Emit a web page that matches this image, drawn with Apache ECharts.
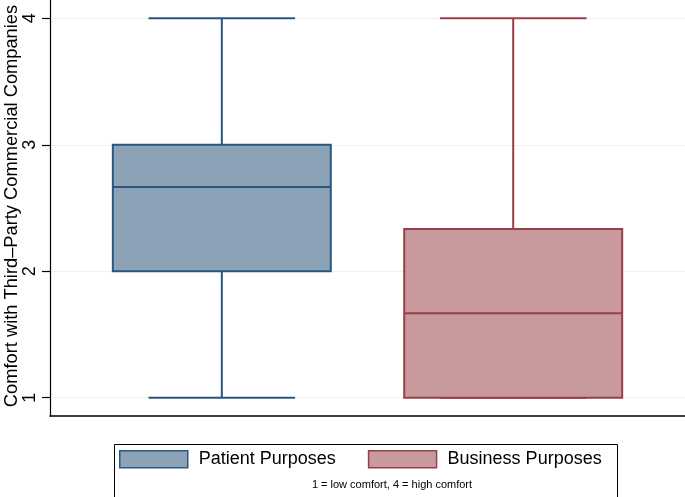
<!DOCTYPE html>
<html>
<head>
<meta charset="utf-8">
<style>html,body{margin:0;padding:0;background:#fff}#c{width:685px;height:497px}</style>
<script src="https://cdn.jsdelivr.net/npm/echarts@6/dist/echarts.min.js"></script>
</head>
<body>
<div id="c"></div>
<script>
// Data
const groups = ['Patient Purposes', 'Business Purposes'];
const groupPos = [1, 2];
// [min, Q1, median, Q3, max]
const patientStats = [1, 2, 2.667, 3, 4];
const businessStats = [1, 1, 1.667, 2.333, 4];
const yTicks = [1, 2, 3, 4];
const yTitle = 'Comfort with Third\u2013Party Commercial Companies';
const note = '1 = low comfort, 4 = high comfort';

const fills = ['#8ca2b7', '#c89a9d'];
const strokes = ['#2b5681', '#9a3e47'];
const FONT = 'Liberation Sans, Arial, sans-serif';

const chart = echarts.init(document.getElementById('c'), null, {renderer: 'canvas'});

function renderBox(params, api) {
  const x = api.value(0);
  const lo = api.coord([x, api.value(1)]);
  const q1 = api.coord([x, api.value(2)]);
  const md = api.coord([x, api.value(3)]);
  const q3 = api.coord([x, api.value(4)]);
  const hi = api.coord([x, api.value(5)]);
  const unit = api.size([1, 0])[0];
  const hw = unit * 0.374;
  const cw = unit * 0.2515;
  const idx = params.seriesIndex;
  const ls = {stroke: strokes[idx], lineWidth: 2};
  const cx = lo[0];
  return {
    type: 'group',
    children: [
      {type: 'line', shape: {x1: cx, y1: q3[1], x2: cx, y2: hi[1]}, style: ls},
      {type: 'line', shape: {x1: cx, y1: q1[1], x2: cx, y2: lo[1]}, style: ls},
      {type: 'line', shape: {x1: cx - cw, y1: hi[1], x2: cx + cw, y2: hi[1]}, style: ls},
      {type: 'line', shape: {x1: cx - cw, y1: lo[1], x2: cx + cw, y2: lo[1]}, style: ls},
      {type: 'rect', shape: {x: cx - hw, y: q3[1], width: 2 * hw, height: q1[1] - q3[1]},
        style: {fill: fills[idx], stroke: strokes[idx], lineWidth: 2}},
      {type: 'line', shape: {x1: cx - hw, y1: md[1], x2: cx + hw, y2: md[1]}, style: ls}
    ]
  };
}

const option = {
  animation: false,
  backgroundColor: '#fff',
  textStyle: {fontFamily: FONT},
  grid: {left: 50, right: 0, top: 0, bottom: 81, containLabel: false, outerBoundsMode: 'none'},
  xAxis: {
    type: 'value', min: 0.4104, max: 2.5896,
    axisLine: {show: true, onZero: false, lineStyle: {color: '#000', width: 1.5}},
    axisTick: {show: false}, axisLabel: {show: false}, splitLine: {show: false}
  },
  yAxis: {
    type: 'value', min: 0.855, max: 4.145,
    name: yTitle, nameLocation: 'middle', nameRotate: 90, nameGap: 29, nameMoveOverlap: false,
    nameTextStyle: {fontSize: 18.3, color: '#000', fontFamily: FONT, padding: [0, 0, 0, 4]},
    axisLine: {show: true, lineStyle: {color: '#000', width: 1.2}},
    axisTick: {show: true, length: 8, customValues: yTicks, lineStyle: {color: '#000', width: 1.2}},
    axisLabel: {show: true, customValues: yTicks, rotate: 90, margin: 11, fontSize: 18, color: '#000',
      fontFamily: FONT},
    splitLine: {show: false}
  },
  legend: {
    left: 119, top: 450, padding: 0, itemWidth: 68, itemHeight: 17, itemGap: 32,
    selectedMode: false, icon: 'rect',
    textStyle: {fontSize: 18, color: '#000', padding: [0, 0, 0, 6], fontFamily: FONT},
    data: [
      {name: groups[0], itemStyle: {color: fills[0], borderColor: strokes[0], borderWidth: 1.5}},
      {name: groups[1], itemStyle: {color: fills[1], borderColor: strokes[1], borderWidth: 1.5}}
    ]
  },
  graphic: [
    {type: 'rect', left: 112, top: 442, shape: {width: 503, height: 56}, silent: true,
      style: {fill: 'none', stroke: '#000', lineWidth: 1}},
    {type: 'text', x: 392, y: 485, silent: true,
      style: {text: note, fill: '#000', fontSize: 11, fontFamily: FONT,
        align: 'center', verticalAlign: 'middle'}}
  ],
  series: [
    {
      name: groups[0], type: 'custom', renderItem: renderBox,
      itemStyle: {color: fills[0], borderColor: strokes[0]},
      data: [[groupPos[0]].concat(patientStats)],
      markLine: {
        silent: true, symbol: 'none', label: {show: false},
        lineStyle: {color: '#eaf2f3', width: 1.2, type: 'solid'},
        data: yTicks.map(v => ({yAxis: v})), z: 0
      },
      z: 2
    },
    {
      name: groups[1], type: 'custom', renderItem: renderBox,
      itemStyle: {color: fills[1], borderColor: strokes[1]},
      data: [[groupPos[1]].concat(businessStats)],
      z: 2
    }
  ]
};
chart.setOption(option);
</script>
</body>
</html>
